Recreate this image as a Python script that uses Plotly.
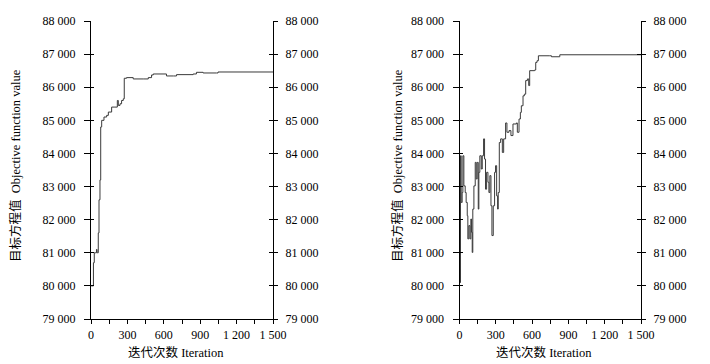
import plotly.graph_objects as go

# Left chart data (iteration, objective value)
left_iter = [0, 5, 20, 27, 40, 45, 50, 55, 60, 66, 74, 80, 88, 107, 129, 143, 170, 197, 217, 225, 239, 252, 266, 274, 293, 348, 430, 472, 499, 513, 622, 680, 705, 842, 869, 924, 1034, 1047, 1500]
left_val = [80000, 80000, 80700, 81000, 81000, 81100, 81000, 81000, 81600, 82600, 83200, 84800, 85000, 85100, 85150, 85250, 85400, 85400, 85600, 85450, 85500, 85600, 85650, 86270, 86290, 86250, 86250, 86290, 86370, 86400, 86340, 86340, 86380, 86400, 86450, 86430, 86430, 86460, 86460]

# Right chart data
right_iter = [0, 5, 8, 14, 22, 28, 36, 47, 55, 64, 69, 77, 86, 94, 99, 105, 110, 119, 130, 138, 146, 155, 160, 168, 180, 188, 199, 207, 215, 224, 235, 243, 251, 260, 268, 279, 290, 298, 307, 315, 320, 329, 340, 354, 365, 381, 392, 409, 425, 442, 470, 478, 492, 503, 511, 525, 536, 547, 561, 572, 580, 621, 630, 641, 652, 746, 760, 823, 829, 1500]
right_val = [80500, 80100, 83930, 82520, 82820, 83930, 83020, 82820, 82520, 82120, 81420, 81820, 81420, 82020, 81620, 81010, 82320, 83020, 83730, 83230, 83730, 82320, 83430, 83930, 83530, 83930, 84440, 83830, 82920, 83430, 83130, 82820, 83330, 82420, 81520, 82420, 83430, 83630, 82720, 82320, 82820, 84330, 84440, 84030, 84440, 84920, 84640, 84690, 84540, 84890, 84920, 84640, 85040, 85240, 85440, 85740, 85790, 86200, 86250, 86050, 86500, 86520, 86750, 86800, 86950, 86950, 86920, 86920, 86980, 86980]

x_tickvals = [0, 150, 300, 450, 600, 750, 900, 1050, 1200, 1350, 1500]
x_ticktext = ["0", "", "300", "", "600", "", "900", "", "1 200", "", "1 500"]
y_tickvals = [79000, 80000, 81000, 82000, 83000, 84000, 85000, 86000, 87000, 88000]
y_ticktext = ["79 000", "80 000", "81 000", "82 000", "83 000", "84 000", "85 000", "86 000", "87 000", "88 000"]

y_title = "目标方程值  Objective function value"
x_title = "迭代次数 Iteration"

FONT = "Liberation Serif, Times New Roman, Noto Sans CJK SC, serif"
W, H = 710, 364
OFF = 8  # page body offset

def px_x(p):
    return (p - OFF) / W

def px_y(p):
    return 1 - (p - OFF) / H

ydom = [px_y(319), px_y(21)]
xdoms = [[px_x(91), px_x(273)], [px_x(459.5), px_x(641)]]

fig = go.Figure()
LINE = dict(color="#3a3a3a", width=1, shape="hv")
fig.add_trace(go.Scatter(x=left_iter, y=left_val, mode="lines", line=LINE, xaxis="x", yaxis="y", showlegend=False))
fig.add_trace(go.Scatter(x=right_iter, y=right_val, mode="lines", line=LINE, xaxis="x2", yaxis="y5", showlegend=False))

layout = dict(
    width=W, height=H, paper_bgcolor="white", plot_bgcolor="rgba(0,0,0,0)",
    margin=dict(l=0, r=0, t=0, b=0),
    font=dict(family=FONT, size=12, color="black"),
    showlegend=False,
)

TICKFONT = dict(family=FONT, size=12, color="black")

def yax(anchor, side, ticks, ticklen, labels, line, standoff, overlay=None):
    d = dict(domain=ydom, range=[79000, 88000], anchor=anchor, side=side,
             tickmode="array", tickvals=y_tickvals, ticktext=y_ticktext,
             ticks=ticks, ticklen=ticklen, tickcolor="black", tickwidth=1,
             showticklabels=labels, showline=line, linecolor="black", linewidth=1,
             showgrid=False, zeroline=False, automargin=False, fixedrange=True,
             ticklabelstandoff=standoff, tickfont=TICKFONT)
    if overlay:
        d["overlaying"] = overlay
    return d

for i, xn in enumerate(["x", "x2"]):
    key = "xaxis" if i == 0 else "xaxis2"
    base = 1 + 4 * i
    yname = "y" if base == 1 else f"y{base}"
    layout[key] = dict(domain=xdoms[i], range=[0, 1500], anchor=yname,
                       tickmode="array", tickvals=x_tickvals, ticktext=x_ticktext,
                       ticks="outside", ticklen=4, tickcolor="black", tickwidth=1,
                       showline=True, linecolor="black", linewidth=1,
                       showgrid=False, zeroline=False, automargin=False,
                       ticklabelstandoff=1, tickfont=TICKFONT)
    ykey = "yaxis" if base == 1 else f"yaxis{base}"
    layout[ykey] = yax(xn, "left", "outside", 6, True, True, 6)
    layout[f"yaxis{base+1}"] = yax(xn, "left", "inside", 3, False, False, 0, overlay=yname)
    layout[f"yaxis{base+2}"] = yax(xn, "right", "outside", 4, True, True, 5, overlay=yname)
    layout[f"yaxis{base+3}"] = yax(xn, "right", "inside", 4, False, False, 0, overlay=yname)
    # empty helper traces so that every overlay axis is drawn
    for k in range(1, 4):
        fig.add_trace(go.Scatter(x=[], y=[], mode="lines", xaxis=xn, yaxis=f"y{base+k}",
                                 showlegend=False, hoverinfo="skip"))

fig.update_layout(**layout)

ann = []
for xc in [15, 397]:
    ann.append(dict(text=y_title, x=px_x(xc), y=px_y(166), xref="paper", yref="paper", textangle=-90,
                    showarrow=False, font=dict(family=FONT, size=12.5, color="black"), xanchor="center", yanchor="middle"))
for xc in [176, 544]:
    ann.append(dict(text=x_title, x=px_x(xc), y=px_y(352), xref="paper", yref="paper",
                    showarrow=False, font=dict(family=FONT, size=12.5, color="black"), xanchor="center", yanchor="middle"))
fig.update_layout(annotations=ann)

fig.write_html("out.html")
